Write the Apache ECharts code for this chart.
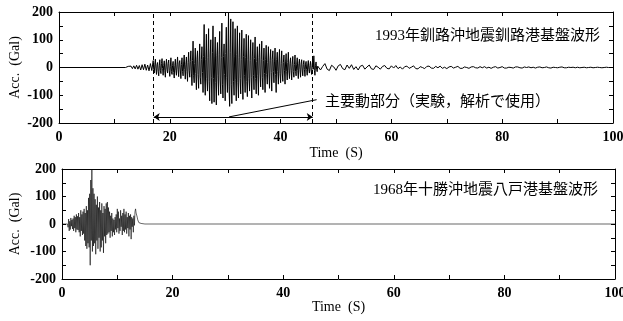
<!DOCTYPE html>
<html>
<head>
<meta charset="utf-8">
<script src="https://cdn.jsdelivr.net/npm/echarts@6/dist/echarts.min.js"></script>
<style>
  html, body { margin: 0; padding: 0; background: #fff; }
  #main { width: 623px; height: 321px; }
</style>
</head>
<body>
<div id="main"></div>
<script>
// 1993 Kushiro record: quiet start, weak onset, main part, decaying tail
var kushiroQuiet = [[0, 0], [12, 0]];
var kushiroOnset = [2,-3,4,-3,5,-4,6,-5,8,-6,7,-9,10,-8,12,-10,9,-12,14,-11]; // from 12 s, 0.25 s step
var kushiroMain = [ // from 17 s, 0.1 s step
  25,-8,-20,12,30,-5,-25,10,18,-14, -30,6,28,-10,-22,15,32,-4,-28,8,
  24,-12,-35,9,30,-6,-20,14,27,-10, -32,5,35,-15,-25,8,22,-18,-38,6,
  30,-10,-28,12,38,-6,-33,16,25,-9, -40,10,35,-14,-30,20,45,-8,-42,12,
  38,-15,-50,18,55,-10,-35,22,60,-20, -65,25,95,-30,-55,15,70,-22,-80,30,
  60,-25,-75,20,85,-35,-60,28,75,-18, -90,40,155,-45,-100,30,120,-40,-85,35,
  140,-50,-120,45,100,-35,-130,55,150,-40, -125,38,110,-55,-135,42,90,-30,-100,48,
  130,-45,-95,35,160,-60,-110,40,85,-25, -120,50,145,-35,-90,45,200,-70,-140,55,
  175,-60,-130,45,165,-50,-100,38,140,-42, -120,48,150,-55,-110,35,125,-40,-95,30,
  135,-45,-115,40,105,-30,-90,35,120,-50, -105,30,115,-40,-85,25,100,-35,-110,38,
  90,-28,-80,32,110,-40,-95,22,75,-30, -100,35,85,-20,-70,28,95,-35,-80,25,
  70,-22,-90,30,80,-25,-60,18,75,-20, -75,25,65,-18,-85,30,60,-15,-55,20,
  70,-25,-90,28,55,-15,-60,20,65,-22, -55,15,60,-20,-50,18,45,-12,-60,20,
  50,-15,-45,18,55,-12,-40,14,35,-10, -45,12,40,-15,-35,10,45,-14,-30,12,
  35,-10,-40,14,30,-8,-35,12,28,-9, -30,10,25,-8,-32,12,22,-7,-28,9,
  25,-8,-20,7,22,-9,-25,8,30,-6, 42,-10,-28,8,20,-6,-15,5
];
var kushiroTail = [ // from 46.8 s, 0.4 s step
  12,-9,4,14,-6,-11,8,2,-10,6, 11,-4,-8,9,-3,10,-7,3,-9,5,
  8,-6,2,9,-5,-7,6,1,-6,4, 7,-3,-5,6,-2,7,-4,2,-6,3,
  5,-3,1,6,-4,-5,3,0,-4,4, 5,-2,-3,4,-1,5,-3,1,-4,2,
  4,-2,1,4,-3,-3,2,0,-3,2, 3,-1,-2,3,-1,3,-2,1,-3,1,
  3,-2,0,3,-2,-2,1,0,-2,2, 2,-1,-2,2,0,2,-1,1,-2,1,
  2,-1,0,2,-1,-2,1,0,-1,1, 2,-1,-1,1,0,1,-1,1,-1,0,
  1,-1,0,1,-1,0,1,0,-1,0, 1,0,0
];
var kushiroEnd = [[100, 0]];

// 1968 Tokachi-oki, Hachinohe record
var hachinoheQuiet = [[0, 0], [1, 0]];
var hachinoheMain = [ // from 1 s, 0.1 s step
  5,-12,18,-25,10,-20,22,-8,15,-18,
  20,-25,30,-15,25,-30,35,-20,28,-22,
  40,-30,25,-45,50,-25,35,-40,45,-35,
  55,-60,40,-80,65,-90,50,-70,95,-85,
  110,-150,160,-60,200,-100,130,-80,110,-70,
  90,-110,70,-60,100,-90,60,-50,80,-100,
  50,-85,75,-60,40,-105,65,-45,55,-70,
  75,-40,80,-35,60,-30,45,-50,30,-25,
  40,-45,20,-30,15,-40,25,-20,35,-30,
  55,-15,45,-35,20,-25,50,-10,30,-40,
  40,-25,55,-30,35,-20,45,-35,25,-15,
  40,-45,30,-20,35,-55,25,-10,20,-30,
  30,-5,45,55,40,35,25,15,10,5,
  8,3,5,2,3,1
];
var hachinoheEnd = [[15, 0], [100, 0]];

var timeTicks = [0, 20, 40, 60, 80, 100];
var accTicks = [-200, -100, 0, 100, 200];
var mainPart = [17.1, 45.8];      // dashed bounds, s
var arrowLevel = -178;            // Gal
var leaderFrom = [30.7, -178];
var leaderTo = [46.5, -116];

var titleTop = '1993年釧路沖地震釧路港基盤波形';
var titleBottom = '1968年十勝沖地震八戸港基盤波形';
var noteText = '主要動部分（実験，解析で使用）';

function seg(t0, dt, vals) {
  return vals.map(function (v, i) { return [Math.round((t0 + i * dt) * 100) / 100, v]; });
}

var topData = kushiroQuiet
  .concat(seg(12, 0.25, kushiroOnset))
  .concat(seg(17, 0.1, kushiroMain))
  .concat(seg(46.8, 0.4, kushiroTail))
  .concat(kushiroEnd);
var bottomData = hachinoheQuiet
  .concat(seg(1, 0.1, hachinoheMain))
  .concat(hachinoheEnd);

var serif = '"Liberation Serif", "Times New Roman", serif';
var cjk = '"Liberation Serif", "Noto Sans CJK JP", serif';

function xBottom(gi, gap) {
  return {
    type: 'value', gridIndex: gi, min: 0, max: 100, interval: 10,
    name: 'Time  (S)', nameLocation: 'middle', nameGap: gap, nameMoveOverlap: false,
    nameTextStyle: { fontFamily: serif, fontSize: 14, color: '#000' },
    axisLine: { onZero: false, lineStyle: { color: '#000', width: 1 } },
    axisTick: { inside: true, length: 4, lineStyle: { color: '#000' } },
    axisLabel: {
      margin: 7, fontFamily: serif, fontSize: 14, fontWeight: 'bold', color: '#000',
      formatter: function (v) { return timeTicks.indexOf(v) >= 0 ? String(v) : ''; }
    },
    splitLine: { show: false }
  };
}
function xTop(gi) {
  return {
    type: 'value', gridIndex: gi, position: 'top', min: 0, max: 100, interval: 10,
    axisLine: { onZero: false, lineStyle: { color: '#000', width: 1 } },
    axisTick: { inside: true, length: 4, lineStyle: { color: '#000' } },
    axisLabel: { show: false }, splitLine: { show: false }
  };
}
function yLeft(gi, gap) {
  return {
    type: 'value', gridIndex: gi, min: -200, max: 200, interval: 50,
    name: 'Acc.  (Gal)', nameLocation: 'middle', nameGap: gap, nameRotate: 90, nameMoveOverlap: false,
    nameTextStyle: { fontFamily: serif, fontSize: 14, color: '#000' },
    axisLine: { onZero: false, lineStyle: { color: '#000', width: 1 } },
    axisTick: { inside: true, length: 4, lineStyle: { color: '#000' } },
    axisLabel: {
      margin: 6, fontFamily: serif, fontSize: 14, fontWeight: 'bold', color: '#000',
      formatter: function (v) { return accTicks.indexOf(v) >= 0 ? String(v) : ''; }
    },
    splitLine: { show: false }
  };
}
function yRight(gi) {
  return {
    type: 'value', gridIndex: gi, position: 'right', min: -200, max: 200, interval: 50,
    axisLine: { onZero: false, lineStyle: { color: '#000', width: 1 } },
    axisTick: { inside: true, length: 4, lineStyle: { color: '#000' } },
    axisLabel: { show: false }, splitLine: { show: false }
  };
}

var myChart = echarts.init(document.getElementById('main'));
var option = {
  backgroundColor: '#fff',
  animation: false,
  grid: [
    { left: 59, right: 10, top: 12, height: 111, outerBoundsMode: 'none', containLabel: false },
    { left: 62, right: 8, top: 169, height: 110, outerBoundsMode: 'none', containLabel: false }
  ],
  title: [
    { text: titleTop, right: 18, top: 24, textStyle: { fontFamily: cjk, fontSize: 15, fontWeight: 'normal', color: '#000' } },
    { text: noteText, left: 320, top: 90, textStyle: { fontFamily: cjk, fontSize: 15, fontWeight: 'normal', color: '#000' } },
    { text: titleBottom, right: 20, top: 178, textStyle: { fontFamily: cjk, fontSize: 15, fontWeight: 'normal', color: '#000' } }
  ],
  xAxis: [xBottom(0, 23), xTop(0), xBottom(1, 21), xTop(1)],
  yAxis: [yLeft(0, 37), yRight(0), yLeft(1, 40), yRight(1)],
  series: [
    {
      type: 'line', xAxisIndex: 0, yAxisIndex: 0, data: topData,
      showSymbol: false, lineStyle: { color: '#000', width: 1 },
      markLine: {
        silent: true, animation: false,
        symbol: ['none', 'none'],
        label: { show: false },
        lineStyle: { type: 'solid', color: '#000', width: 1 },
        data: [
          { xAxis: mainPart[0], lineStyle: { type: [4, 3], color: '#000', width: 1 } },
          { xAxis: mainPart[1], lineStyle: { type: [4, 3], color: '#000', width: 1 } },
          [
            { coord: [mainPart[0], arrowLevel], symbol: 'arrow', symbolSize: 6 },
            { coord: [mainPart[1], arrowLevel], symbol: 'arrow', symbolSize: 6 }
          ],
          [
            { coord: leaderFrom },
            { coord: leaderTo }
          ]
        ]
      }
    },
    {
      type: 'line', xAxisIndex: 2, yAxisIndex: 2, data: bottomData,
      showSymbol: false, lineStyle: { color: '#000', width: 0.6 }
    }
  ]
};
myChart.setOption(option);
window.onresize = myChart.resize;
</script>
</body>
</html>
